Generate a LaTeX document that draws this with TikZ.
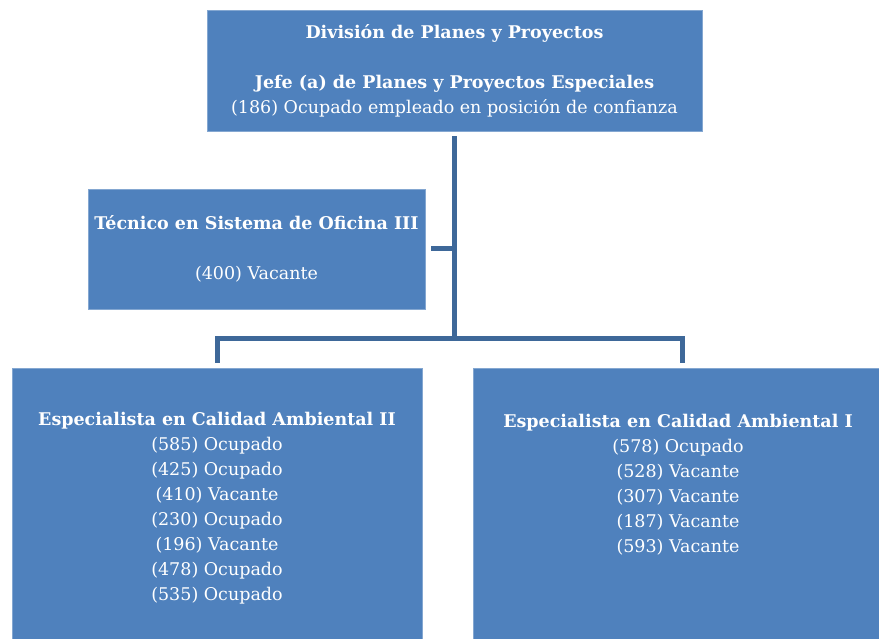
\documentclass[tikz,border=0pt]{standalone}
\usepackage{fontspec}
\setmainfont{DejaVu Serif}
\usepackage{xcolor}
\usepackage{tikz}
\usetikzlibrary{positioning}
\definecolor{boxblue}{HTML}{4F81BD}
\definecolor{linkblue}{HTML}{3E6899}

\begin{document}
\begin{tikzpicture}[
        x=1pt, y=-1pt,
        unit/.style={
            fill=boxblue,
            draw=boxblue!70!white,
            line width=0.6pt,
            text=white,
            align=center,
            inner sep=0pt,
            font=\fontsize{17.5}{25}\selectfont
        },
        link/.style={
            line width=5pt,
            linkblue
        }
    ]

    \useasboundingbox (0,0) rectangle (879,639);

    \node[unit, minimum width=495pt, minimum height=121pt] (div) at (454.5,70.5)
        {\textbf{División de Planes y Proyectos}\\[25pt]
         \textbf{Jefe (a) de Planes y Proyectos Especiales}\\
         (186) Ocupado empleado en posición de confianza};

    \node[unit, minimum width=337pt, minimum height=120pt] (tec) at (256.5,249)
        {\textbf{Técnico en Sistema de Oficina III}\\[25pt]
         (400) Vacante};

    \node[unit, minimum width=410pt, minimum height=280pt] (eca2) at (217,508)
        {\textbf{Especialista en Calidad Ambiental II}\\
         (585) Ocupado\\ (425) Ocupado\\ (410) Vacante\\ (230) Ocupado\\
         (196) Vacante\\ (478) Ocupado\\ (535) Ocupado};

    \node[unit, minimum width=410pt, minimum height=280pt] (eca1) at (678,508)
        {\textbf{Especialista en Calidad Ambiental I}\\
         (578) Ocupado\\ (528) Vacante\\ (307) Vacante\\ (187) Vacante\\
         (593) Vacante\\ \mbox{}\\ \mbox{}};

    % bus between the head and the two specialist groups
    \coordinate (bus) at (454.5,338.5);
    \coordinate (busL) at (217,338.5);
    \coordinate (busR) at (682,338.5);

    \draw[link, shorten <=5pt] (div.south) -- (bus);
    \draw[link, shorten <=6pt] (tec.east) -- (tec.east -| bus);
    \draw[link, shorten <=5pt, shorten >=5pt]
        (busL |- eca2.north) -- (busL) -- (busR) -- (busR |- eca1.north);

    \end{tikzpicture}
\end{document}
